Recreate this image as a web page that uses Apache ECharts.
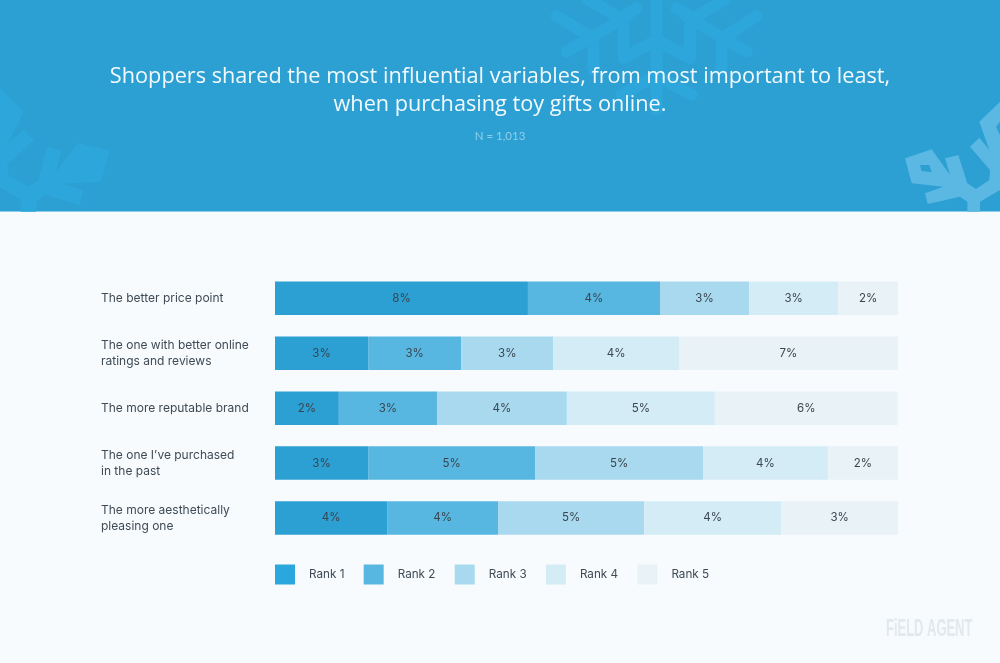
<!DOCTYPE html>
<html><head><meta charset="utf-8">
<style>html,body{margin:0;padding:0;background:#f7fbfe}#c{width:1000px;height:663px}</style>
<script src="https://cdn.jsdelivr.net/npm/echarts@6/dist/echarts.min.js"></script>
</head><body><div id="c"></div>
<script>
const categories = ['The better price point','The one with better online\nratings and reviews','The more reputable brand','The one I\u2019ve purchased\nin the past','The more aesthetically\npleasing one'];
const rankNames = ['Rank 1','Rank 2','Rank 3','Rank 4','Rank 5'];
const rank1 = [8.12,2.99,2.05,2.99,3.60];
const rank2 = [4.24,2.99,3.15,5.36,3.56];
const rank3 = [2.86,2.95,4.17,5.39,4.69];
const rank4 = [2.86,4.04,4.75,4.01,4.40];
const rank5 = [1.93,7.03,5.87,2.25,3.76];
const labels1 = ['8%','3%','2%','3%','4%'];
const labels2 = ['4%','3%','3%','5%','4%'];
const labels3 = ['3%','3%','4%','5%','5%'];
const labels4 = ['3%','4%','5%','4%','4%'];
const labels5 = ['2%','7%','6%','2%','3%'];
const colors = ['#2c9fd3','#58b7e1','#a9d9ee','#d4ecf6','#e9f2f7'];
const titleText = 'Shoppers shared the most influential variables, from most important to least,\nwhen purchasing toy gifts online.';
const subText = 'N = 1,013';
const brandText = 'FiELD AGENT';

const values = [rank1,rank2,rank3,rank4,rank5];
const texts = [labels1,labels2,labels3,labels4,labels5];
const FLAKE = '#2ca6db', FLAKE2 = '#5ab8e2', HEAD = '#2c9fd3';
const z5 = (p)=>p.map(a=>[530+a[0]/3,a[1]/3]);
const line5 = (p)=>({type:'polyline',z:1,silent:true,shape:{points:z5(p)},style:{fill:null,stroke:FLAKE,lineWidth:12,lineCap:'round',lineJoin:'round'}});
const z6 = (p)=>p.map(a=>[a[0]/3,80+a[1]/3]);
const z7 = (p)=>p.map(a=>[890+a[0]/3,90+a[1]/3]);

const chart = echarts.init(document.getElementById('c'),null,{renderer:'canvas'});
chart.setOption({
  animation:false,
  backgroundColor:'#f7fbfe',
  title:[
    {text:titleText,left:500,top:63,padding:0,textAlign:'center',textStyle:{color:'#f2fafd',fontFamily:'Open Sans',fontWeight:'normal',fontSize:21.7,lineHeight:28}},
    {text:subText,left:500,top:130,padding:0,textAlign:'center',textStyle:{color:'#8fcfe9',fontFamily:'Lato',fontWeight:'normal',fontSize:11.5}}
  ],
  grid:{left:275,top:270.9,width:623,height:274.5},
  xAxis:{type:'value',min:0,max:20,show:false},
  yAxis:{type:'category',inverse:true,data:categories,
    axisLine:{show:false},axisTick:{show:false},
    axisLabel:{margin:174,align:'left',color:'#3f4a54',fontFamily:'Inter',fontSize:12,lineHeight:16}},
  legend:{left:275,top:564.5,padding:0,itemWidth:20,itemHeight:20,itemGap:19.3,icon:'rect',
    data:rankNames.map((n,i)=>i===0?{name:n,itemStyle:{color:'#2aa8dd'}}:{name:n}),
    selectedMode:false,
    textStyle:{color:'#3f4a54',fontFamily:'Inter',fontSize:11.7,padding:[0,0,0,9]}},
  series:rankNames.map((n,i)=>({
    name:n,type:'bar',stack:'total',barWidth:33.5,data:values[i],
    itemStyle:{color:colors[i]},
    label:{show:true,position:'inside',color:'#3a4550',fontFamily:'Inter',fontSize:11.5,
      formatter:(p)=>texts[i][p.dataIndex]},
    emphasis:{disabled:true}
  })),
  graphic:{elements:[
    {type:'rect',z:0,silent:true,shape:{x:0,y:0,width:1000,height:211},style:{fill:HEAD}},
    {type:'rect',z:0,silent:true,shape:{x:0,y:211,width:1000,height:1},style:{fill:'#8dcdea'}},
    line5([[380,-10],[380,330]]),
    line5([[80,48],[190,115],[190,210]]),
    line5([[110,155],[230,85],[290,50]]),
    line5([[280,80],[280,175],[380,120],[480,175],[480,80]]),
    line5([[680,48],[575,115],[575,210]]),
    line5([[650,155],[530,85],[470,50]]),
    line5([[170,-5],[270,55],[320,25]]),
    line5([[590,-5],[490,55],[440,25]]),
    line5([[275,285],[380,225],[485,285]]),
    {type:'polygon',z:1,silent:true,shape:{points:z6([[0,25],[72,95],[25,190],[70,150],[102,180],[22,255],[25,285],[85,320],[115,300],[142,200],[185,212],[168,275],[235,188],[330,212],[303,305],[188,312],[250,330],[240,375],[135,345],[110,365],[108,395],[62,395],[62,360],[0,322]])},style:{fill:FLAKE}},
    {type:'polygon',z:1,silent:true,shape:{points:z7([[330,35],[268,95],[298,180],[268,143],[240,170],[300,240],[298,270],[258,297],[232,280],[205,195],[165,205],[180,255],[125,178],[45,205],[65,280],[160,290],[105,310],[113,342],[210,320],[232,335],[232,365],[270,365],[270,335],[330,300]])},style:{fill:FLAKE2}},
    {type:'polygon',z:1,silent:true,shape:{points:z7([[90,225],[118,225],[125,247],[95,243]])},style:{fill:HEAD}},
    {type:'polygon',z:1,silent:true,shape:{points:z7([[318,110],[330,95],[330,135]])},style:{fill:HEAD}},
    {type:'text',z:1,silent:true,x:886,y:617,scaleX:0.54,style:{text:brandText,fill:'#e2e8ec',fontFamily:'Liberation Sans',fontWeight:'bold',fontSize:24}}
  ]}
});
</script></body></html>
